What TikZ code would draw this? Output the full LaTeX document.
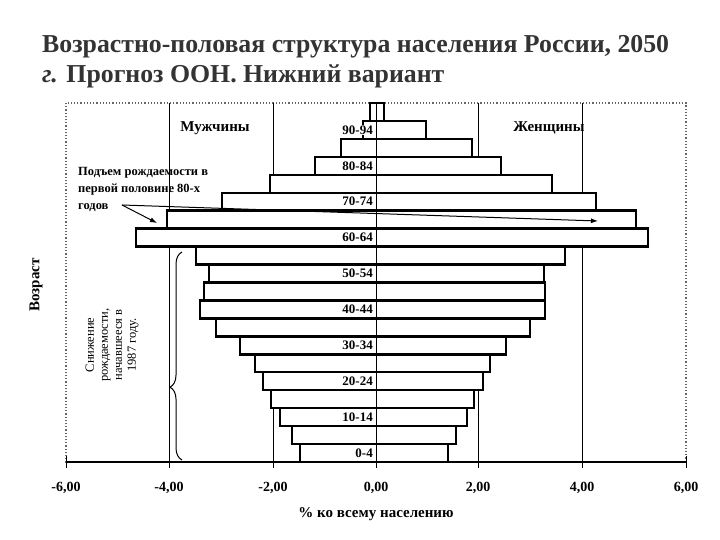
\documentclass[tikz,border=0pt]{standalone}
\usepackage{fontspec}
\setmainfont{Liberation Serif}
\usetikzlibrary{arrows.meta,decorations.pathreplacing}
\begin{document}
\begin{tikzpicture}[x=1pt,y=-1pt,
  bar/.style={draw=black,line width=2.4pt,fill=white},
  grid/.style={draw=black,line width=1pt},
  lbl/.style={font=\fontsize{13}{14}\selectfont\bfseries,inner sep=1pt},
  tick/.style={font=\fontsize{14}{15}\selectfont\bfseries}]
\useasboundingbox (0,0) rectangle (720,540);
\fill[white] (0,0) rectangle (720,540);
\node[anchor=west,align=left,text=black!80,font=\fontsize{25.8}{30}\selectfont\bfseries,inner sep=0pt] (title) at (42,62)
  {Возрастно-половая структура населения России, 2050\\\textit{г.} Прогноз ООН. Нижний вариант};
% frame
\draw[black!60,dotted,line width=1.2pt] (66,103) rectangle (686,462);
% gridlines
\foreach \gx in {169,273,478,582} \draw[grid] (\gx,103) -- (\gx,462);
% bars
\def\rh{17.95}
\foreach [count=\i from 0] \l/\r in {370/384,363/426,341/472,315/501,270/552,222/596,167/636,136/648,196/565,209/544,204/545,200/545,216/530,240/506,255/490,263/483,271/474,280/467,292/456,300/448}{
  \draw[bar] (\l,{103+\i*\rh}) rectangle (\r,{103+(\i+1)*\rh});
}
\draw[line width=1pt] (376,103) -- (376,462);
% age labels
\foreach [count=\i from 0] \t/\k in {90-94/1,80-84/3,70-74/5,60-64/7,50-54/9,40-44/11,30-34/13,20-24/15,10-14/17,0-4/19}{
  \node[lbl,fill=white,anchor=east] (age\i) at (374,{103+(\k+0.5)*\rh}) {\t};
}
% axis
\draw[line width=1.6pt] (66,462) -- (686,462);
\foreach \v in {66,169,273,376,478,582,686}{
  \draw[line width=1pt] (\v,456) -- (\v,468);
}
\node[tick] (t1) at (66,488) {-6,00};
\node[tick] (t2) at (169,488) {-4,00};
\node[tick] (t3) at (273,488) {-2,00};
\node[tick] (t4) at (376,488) {0,00};
\node[tick] (t5) at (478,488) {2,00};
\node[tick] (t6) at (582,488) {4,00};
\node[tick] (t7) at (686,488) {6,00};
\node[font=\fontsize{15}{16}\selectfont\bfseries] (xl) at (376,514) {\% ко всему населению};
\node[rotate=90,font=\fontsize{15}{16}\selectfont\bfseries] (yl) at (36,285) {Возраст};
\node[font=\fontsize{15}{16}\selectfont\bfseries] (men) at (215,128) {Мужчины};
\node[font=\fontsize{15}{16}\selectfont\bfseries] (women) at (549,128) {Женщины};
% annotation
\node[anchor=north west,align=left,inner sep=0pt,font=\fontsize{12.5}{17}\selectfont\bfseries] (ann) at (78,167)
  {Подъем рождаемости в\\первой половине 80-х\\годов};
\coordinate (a0) at (122,205);
\coordinate (a1) at (157,223);
\coordinate (a2) at (598,221);
\draw[line width=1pt,-{Latex[length=7pt,width=5pt]}] (a0) -- (a1);
\draw[line width=1pt,-{Latex[length=7pt,width=5pt]}] (a0) -- (a2);
% brace
\coordinate (b0) at (182,252);
\coordinate (b1) at (182,460);
\draw[line width=1pt,decorate,decoration={brace,amplitude=12pt,mirror,aspect=0.65}] (b0) -- (b1);
\node[rotate=90,align=center,font=\fontsize{12.5}{14}\selectfont] (dec) at (112,345)
  {Снижение\\рождаемости,\\начавшееся в\\1987 году.};
\end{tikzpicture}
\end{document}
